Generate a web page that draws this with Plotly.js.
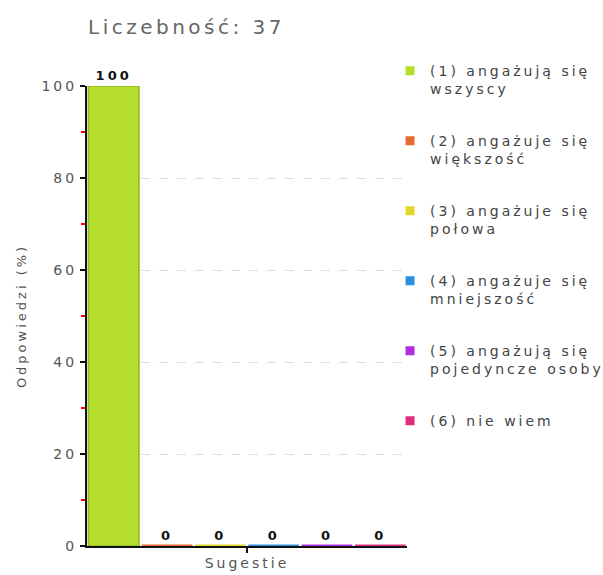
<!DOCTYPE html>
<html><head><meta charset="utf-8">
<script src="https://cdn.plot.ly/plotly-3.0.1.min.js"></script>
<style>
html,body{margin:0;padding:0;background:#fff}
svg text{letter-spacing:3px}
svg .gtitle{letter-spacing:3.5px}
</style>
</head><body>
<div id="chart" style="width:603px;height:575px"></div>
<script>
const category = ["Sugestie"];
const seriesNames = [
  "(1) angażują się<br>wszyscy",
  "(2) angażuje się<br>większość",
  "(3) angażuje się<br>połowa",
  "(4) angażuje się<br>mniejszość",
  "(5) angażują się<br>pojedyncze osoby",
  "(6) nie wiem"
];
const seriesValues = [100, 0, 0, 0, 0, 0];
const seriesColors = ["#b6de2e", "#e8692f", "#e3d82a", "#2e90dc", "#b02de0", "#e02c7a"];
const seriesLineColors = ["#93b81e", "#d4521a", "#c9be14", "#1a78c2", "#9216c4", "#c81563"];
const titleText = "Liczebność: 37";
const yTitle = "Odpowiedzi (%)";
const xTitle = "Sugestie";

const traces = [];
seriesNames.forEach((n, i) => {
  traces.push({
    type: "bar",
    name: n,
    x: category,
    y: [seriesValues[i]],
    text: [String(seriesValues[i])],
    textposition: "outside",
    cliponaxis: false,
    textfont: {family: "DejaVu Sans", size: 13, color: "#111", weight: "bold"},
    marker: {color: seriesColors[i], line: {color: seriesValues[i] === 0 ? seriesColors[i] : seriesLineColors[i], width: seriesValues[i] === 0 ? 3 : 1.5}},
    showlegend: false,
    hoverinfo: "none"
  });
});
seriesNames.forEach((n, i) => {
  traces.push({
    type: "scatter", mode: "markers",
    name: n,
    x: [null], y: [null],
    marker: {symbol: "square", size: 9, color: seriesColors[i]},
    legendgroup: "g" + i,
    showlegend: true,
    hoverinfo: "none"
  });
});

const layout = {
  width: 603, height: 575,
  margin: {l: 87, r: 196, t: 86, b: 29, autoexpand: false},
  paper_bgcolor: "#fff", plot_bgcolor: "#fff",
  font: {family: "DejaVu Sans", color: "#555", size: 14},
  title: {text: titleText, x: 88/603, xanchor: "left", y: 0.953, yanchor: "middle",
          font: {family: "DejaVu Sans", size: 20, color: "#666"}},
  barmode: "group", bargap: 0.0, bargroupgap: 0.05,
  showlegend: true,
  legend: {x: 0.947, xanchor: "left", y: 1.067, yanchor: "top",
           traceorder: "grouped", tracegroupgap: 30.6, valign: "top", maxheight: 600,
           font: {family: "DejaVu Sans", size: 14, color: "#444"},
           itemwidth: 30, bgcolor: "rgba(0,0,0,0)"},
  xaxis: {type: "category", showline: true, linecolor: "#111", linewidth: 2,
          ticks: "outside", ticklen: 5, tickcolor: "#111", tickwidth: 1.5, showticklabels: false,
          layer: "below traces",
          title: {text: xTitle, standoff: 6, font: {family: "DejaVu Sans", size: 14, color: "#555"}},
          showgrid: false, zeroline: false},
  yaxis: {range: [0, 100], dtick: 20, showline: true, linecolor: "#111", linewidth: 2,
          ticks: "outside", ticklen: 5, tickcolor: "#111", tickwidth: 1.5,
          tickfont: {family: "DejaVu Sans", size: 14, color: "#555"},
          showgrid: true, gridcolor: "#ddd", griddash: "dash", zeroline: false,
          minor: {dtick: 10, ticks: "outside", ticklen: 4, tickcolor: "#ff0000", tickwidth: 1.5, showgrid: false},
          title: {text: yTitle, standoff: 12, font: {family: "DejaVu Sans", size: 13, color: "#555"}}}
};

Plotly.newPlot("chart", traces, layout, {displayModeBar: false, staticPlot: true});
</script>
</body></html>
